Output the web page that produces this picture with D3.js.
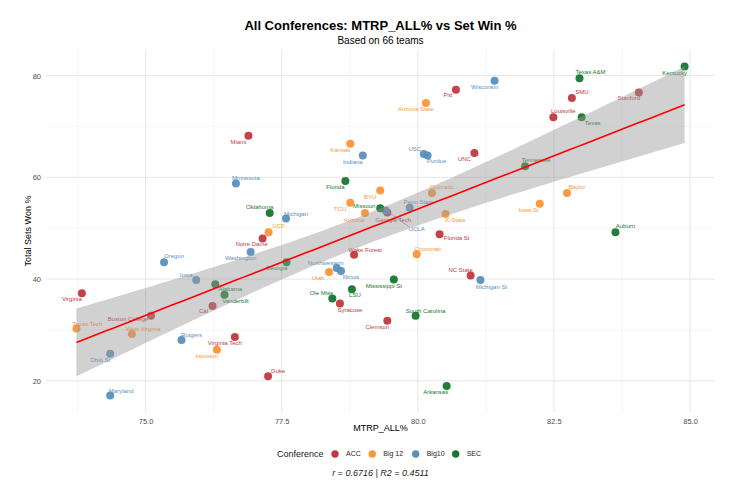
<!DOCTYPE html>
<html>
<head>
<meta charset="utf-8">
<script src="https://cdn.jsdelivr.net/npm/d3@7"></script>
<style>
  body { margin: 0; background: #fff; }
  svg { font-family: "Liberation Sans", Arial, Helvetica, sans-serif; }
</style>
</head>
<body>
<div id="chart"></div>
<script>
// data
const teams = [
  'Miami', 'Pitt', 'SMU', 'Louisville', 'Stanford', 'UNC', 'Notre Dame', 'Virginia', 'Boston College',
  'Cal', 'Virginia Tech', 'Duke', 'Wake Forest', 'Syracuse', 'Clemson', 'Florida St', 'NC State', 'Georgia Tech',
  'Arizona State', 'Kansas', 'BYU', 'TCU', 'Arizona', 'Colorado', 'K-State', 'Iowa St', 'Baylor', 'UCF',
  'Utah', 'Cincinnati', 'Texas Tech', 'West Virginia', 'Houston',
  'Wisconsin', 'USC', 'Purdue', 'Indiana', 'Minnesota', 'Michigan', 'Penn State', 'UCLA', 'Washington',
  'Oregon', 'Iowa', 'Northwestern', 'Illinois', 'Michigan St', 'Rutgers', 'Ohio St', 'Maryland',
  'Texas A&M', 'Kentucky', 'Texas', 'Tennessee', 'Florida', 'Missouri', 'Oklahoma', 'Georgia', 'Alabama',
  'Vanderbilt', 'Ole Miss', 'LSU', 'Mississippi St', 'South Carolina', 'Arkansas', 'Auburn'
]

const conferenceOf = [
  'ACC', 'ACC', 'ACC', 'ACC', 'ACC', 'ACC', 'ACC', 'ACC', 'ACC',
  'ACC', 'ACC', 'ACC', 'ACC', 'ACC', 'ACC', 'ACC', 'ACC', 'ACC',
  'Big 12', 'Big 12', 'Big 12', 'Big 12', 'Big 12', 'Big 12', 'Big 12', 'Big 12', 'Big 12', 'Big 12',
  'Big 12', 'Big 12', 'Big 12', 'Big 12', 'Big 12',
  'Big10', 'Big10', 'Big10', 'Big10', 'Big10', 'Big10', 'Big10', 'Big10', 'Big10',
  'Big10', 'Big10', 'Big10', 'Big10', 'Big10', 'Big10', 'Big10', 'Big10',
  'SEC', 'SEC', 'SEC', 'SEC', 'SEC', 'SEC', 'SEC', 'SEC', 'SEC',
  'SEC', 'SEC', 'SEC', 'SEC', 'SEC', 'SEC', 'SEC'
]

const mtrpAll = [
  76.89, 80.70, 82.83, 82.49, 84.06, 81.04, 77.15, 73.83, 75.10,
  76.23, 76.64, 77.25, 78.83, 78.57, 79.44, 80.40, 80.97, 79.44,
  80.15, 78.76, 79.31, 78.76, 79.03, 80.26, 80.51, 82.24, 82.74, 77.26,
  78.37, 79.98, 73.73, 74.75, 76.31,
  81.41, 80.11, 80.18, 78.99, 76.66, 77.58, 79.85, 79.41, 76.93,
  75.34, 75.93, 78.51, 78.59, 81.15, 75.66, 74.35, 74.35,
  82.97, 84.90, 83.01, 81.97, 78.67, 79.31, 77.28, 77.59, 76.28,
  76.45, 78.43, 78.79, 79.56, 79.96, 80.53, 83.63
]

const setWinPct = [
  68.2, 77.2, 75.6, 71.8, 76.7, 64.8, 48.0, 37.2, 32.8,
  34.7, 28.6, 20.9, 44.8, 35.2, 31.8, 48.8, 40.7, 53.1,
  74.6, 66.6, 57.4, 55.0, 53.0, 56.9, 52.8, 54.8, 56.9, 49.2,
  41.4, 44.9, 30.3, 29.2, 26.1,
  79.0, 64.6, 64.3, 64.3, 58.8, 51.9, 54.0, 53.5, 45.3,
  43.3, 39.8, 42.2, 41.6, 39.8, 28.0, 25.3, 17.1,
  79.5, 81.8, 71.8, 62.2, 59.3, 53.9, 53.0, 43.3, 39.0,
  36.9, 36.2, 38.0, 39.9, 32.8, 19.0, 49.2
]

const conferences = ['ACC', 'Big 12', 'Big10', 'SEC']
const xMajorTicks = [75, 77.5, 80, 82.5, 85]
const xMinorTicks = [73.75, 76.25, 78.75, 81.25, 83.75]
const yMajorTicks = [20, 40, 60, 80]
const yMinorTicks = [30, 50, 70]

const titleText = 'All Conferences: MTRP_ALL% vs Set Win %'
const subtitleText = 'Based on 66 teams'
const captionText = 'r = 0.6716 | R2 = 0.4511'

// styling
const colors = { 'ACC': '#c0393f', 'Big 12': '#fd9537', 'Big10': '#5a8fbd', 'SEC': '#16772f' }

// label offsets from the point, in pixels (repel-like placement)
const labelNudge = {
  'Miami': [-10, 6], 'Pitt': [-8, 5], 'SMU': [10, -6], 'Louisville': [10, -6], 'Stanford': [-10, 6],
  'UNC': [-10, 6], 'Notre Dame': [-11, 6], 'Virginia': [-10, 6], 'Boston College': [-23, 3],
  'Cal': [-9, 5], 'Virginia Tech': [-10, 6], 'Duke': [10, -5], 'Wake Forest': [11, -5],
  'Syracuse': [10, 6], 'Clemson': [-10, 6], 'Florida St': [17, 4], 'NC State': [-10, -6],
  'Georgia Tech': [6, 7], 'Arizona State': [-10, 6], 'Kansas': [-10, 6], 'BYU': [-10, 6],
  'TCU': [-10, 6], 'Arizona': [-11, 7], 'Colorado': [10, -6], 'K-State': [10, 6], 'Iowa St': [-11, 6],
  'Baylor': [10, -6], 'UCF': [10, -6], 'Utah': [-11, 6], 'Cincinnati': [11, -5], 'Texas Tech': [11, -5],
  'West Virginia': [11, -5], 'Houston': [-10, 6], 'Wisconsin': [-10, 6], 'USC': [-9, -5],
  'Purdue': [9, 5], 'Indiana': [-10, 6], 'Minnesota': [10, -6], 'Michigan': [10, -5],
  'Penn State': [9, -6], 'UCLA': [31, 18], 'Washington': [-10, 6], 'Oregon': [10, -6], 'Iowa': [-10, -5],
  'Northwestern': [-11, -5], 'Illinois': [10, 6], 'Michigan St': [11, 7], 'Rutgers': [10, -5],
  'Ohio St': [-10, 6], 'Maryland': [11, -5], 'Texas A&M': [11, -6], 'Kentucky': [-10, 6],
  'Texas': [11, 6], 'Tennessee': [11, -6], 'Florida': [-10, 6], 'Missouri': [-16, -2],
  'Oklahoma': [-10, -6], 'Georgia': [-10, 6], 'Alabama': [15, 5], 'Vanderbilt': [11, 6],
  'Ole Miss': [-11, -5], 'LSU': [3, 6], 'Mississippi St': [-10, 6], 'South Carolina': [10, -5],
  'Arkansas': [-11, 6], 'Auburn': [10, -6]
}

const width = 744
const height = 502
const margin = { top: 50, right: 29, bottom: 90, left: 46 }
const innerWidth = width - margin.left - margin.right
const innerHeight = height - margin.top - margin.bottom

const data = teams.map(function (t, i) {
  return { team: t, conf: conferenceOf[i], x: mtrpAll[i], y: setWinPct[i] }
})

function expand (ext) {
  let pad = (ext[1] - ext[0]) * 0.05
  return [ext[0] - pad, ext[1] + pad]
}

const xScale = d3.scaleLinear()
  .domain(expand(d3.extent(data, function (d) { return d.x })))
  .range([0, innerWidth])

const yScale = d3.scaleLinear()
  .domain(expand(d3.extent(data, function (d) { return d.y })))
  .range([innerHeight, 0])

// linear fit with 95% confidence band (like geom_smooth(method = 'lm'))
const n = data.length
const xBar = d3.mean(data, function (d) { return d.x })
const yBar = d3.mean(data, function (d) { return d.y })
const sxx = d3.sum(data, function (d) { return (d.x - xBar) * (d.x - xBar) })
const sxy = d3.sum(data, function (d) { return (d.x - xBar) * (d.y - yBar) })
const slope = sxy / sxx
const intercept = yBar - slope * xBar
const sse = d3.sum(data, function (d) { let e = d.y - (intercept + slope * d.x); return e * e })
const sigma = Math.sqrt(sse / (n - 2))
const tCrit = 1.9977

const xExt = d3.extent(data, function (d) { return d.x })
const fit = d3.range(0, 81).map(function (k) {
  let xv = xExt[0] + (xExt[1] - xExt[0]) * k / 80
  let yv = intercept + slope * xv
  let se = sigma * Math.sqrt(1 / n + (xv - xBar) * (xv - xBar) / sxx)
  return { x: xv, y: yv, lo: yv - tCrit * se, hi: yv + tCrit * se }
})

const svg = d3.select('#chart').append('svg')
  .attr('width', width)
  .attr('height', height)

const g = svg.append('g')
  .attr('transform', 'translate(' + margin.left + ',' + margin.top + ')')

// grid
g.selectAll('line.xminor').data(xMinorTicks).enter().append('line')
  .attr('x1', function (d) { return xScale(d) }).attr('x2', function (d) { return xScale(d) })
  .attr('y1', 0).attr('y2', innerHeight)
  .attr('stroke', '#f0f0f0').attr('stroke-width', 0.6)
g.selectAll('line.yminor').data(yMinorTicks).enter().append('line')
  .attr('y1', function (d) { return yScale(d) }).attr('y2', function (d) { return yScale(d) })
  .attr('x1', 0).attr('x2', innerWidth)
  .attr('stroke', '#f0f0f0').attr('stroke-width', 0.6)
g.selectAll('line.xmajor').data(xMajorTicks).enter().append('line')
  .attr('x1', function (d) { return xScale(d) }).attr('x2', function (d) { return xScale(d) })
  .attr('y1', 0).attr('y2', innerHeight)
  .attr('stroke', '#e6e6e6').attr('stroke-width', 1)
g.selectAll('line.ymajor').data(yMajorTicks).enter().append('line')
  .attr('y1', function (d) { return yScale(d) }).attr('y2', function (d) { return yScale(d) })
  .attr('x1', 0).attr('x2', innerWidth)
  .attr('stroke', '#e6e6e6').attr('stroke-width', 1)

// axes (labels only)
const xAxis = g.append('g')
  .attr('transform', 'translate(0,' + innerHeight + ')')
  .call(d3.axisBottom(xScale).tickValues(xMajorTicks).tickFormat(d3.format('.1f')).tickSize(0).tickPadding(7))
const yAxis = g.append('g')
  .call(d3.axisLeft(yScale).tickValues(yMajorTicks).tickFormat(d3.format('d')).tickSize(0).tickPadding(5))
xAxis.select('.domain').remove()
yAxis.select('.domain').remove()
svg.selectAll('.tick text')
  .attr('fill', '#4d4d4d')
  .attr('font-size', '7.5px')
  .attr('font-family', '"Liberation Sans", Arial, sans-serif')

// points
g.selectAll('circle.pt').data(data).enter().append('circle')
  .attr('class', 'pt')
  .attr('cx', function (d) { return xScale(d.x) })
  .attr('cy', function (d) { return yScale(d.y) })
  .attr('r', 4)
  .attr('fill', function (d) { return colors[d.conf] })
  .attr('fill-opacity', 0.95)

// leader segment for labels pushed far away
g.selectAll('line.seg').data(data.filter(function (d) { return Math.abs(labelNudge[d.team][0]) > 25 })).enter()
  .append('line')
  .attr('x1', function (d) { return xScale(d.x) + 3 })
  .attr('y1', function (d) { return yScale(d.y) + 2 })
  .attr('x2', function (d) { return xScale(d.x) + labelNudge[d.team][0] - 8 })
  .attr('y2', function (d) { return yScale(d.y) + labelNudge[d.team][1] - 2 })
  .attr('stroke', function (d) { return colors[d.conf] })
  .attr('stroke-width', 0.7)

// labels
g.selectAll('text.lbl').data(data).enter().append('text')
  .attr('class', 'lbl')
  .attr('x', function (d) { return xScale(d.x) + labelNudge[d.team][0] })
  .attr('y', function (d) { return yScale(d.y) + labelNudge[d.team][1] })
  .attr('dy', '0.35em')
  .attr('text-anchor', 'middle')
  .attr('font-size', '6px')
  .attr('fill', function (d) { return colors[d.conf] })
  .text(function (d) { return d.team })

// confidence band and fit line
g.append('path')
  .datum(fit)
  .attr('d', d3.area()
    .x(function (d) { return xScale(d.x) })
    .y0(function (d) { return yScale(d.lo) })
    .y1(function (d) { return yScale(d.hi) }))
  .attr('fill', '#999999')
  .attr('fill-opacity', 0.45)

g.append('path')
  .datum(fit)
  .attr('d', d3.line()
    .x(function (d) { return xScale(d.x) })
    .y(function (d) { return yScale(d.y) }))
  .attr('fill', 'none')
  .attr('stroke', '#ff0000')
  .attr('stroke-width', 1.6)

// titles
svg.append('text')
  .attr('x', margin.left + innerWidth / 2).attr('y', 30)
  .attr('text-anchor', 'middle')
  .attr('font-size', '13px').attr('font-weight', 'bold')
  .text(titleText)
svg.append('text')
  .attr('x', margin.left + innerWidth / 2).attr('y', 44)
  .attr('text-anchor', 'middle')
  .attr('font-size', '10px')
  .text(subtitleText)

svg.append('text')
  .attr('x', margin.left + innerWidth / 2).attr('y', 431)
  .attr('text-anchor', 'middle')
  .attr('font-size', '9px')
  .text('MTRP_ALL%')

svg.append('text')
  .attr('transform', 'translate(31,' + (margin.top + innerHeight / 2) + ') rotate(-90)')
  .attr('text-anchor', 'middle')
  .attr('font-size', '9px')
  .text('Total Sets Won %')

// legend
const legend = svg.append('g').attr('transform', 'translate(277,454)')
legend.append('text')
  .attr('x', 0).attr('dy', '0.35em')
  .attr('font-size', '9px').attr('fill', '#222')
  .text('Conference')
const legendX = [58, 95.3, 138.7, 178.7]
const item = legend.selectAll('g.item').data(conferences).enter().append('g')
  .attr('transform', function (d, i) { return 'translate(' + legendX[i] + ',0)' })
item.append('circle').attr('r', 3.7).attr('fill', function (d) { return colors[d] })
item.append('text')
  .attr('x', 11).attr('dy', '0.35em')
  .attr('font-size', '7px').attr('fill', '#222')
  .text(function (d) { return d })

svg.append('text')
  .attr('x', margin.left + innerWidth / 2).attr('y', 476)
  .attr('text-anchor', 'middle')
  .attr('font-size', '9px').attr('font-style', 'italic')
  .attr('fill', '#222')
  .text(captionText)
</script>
</body>
</html>
